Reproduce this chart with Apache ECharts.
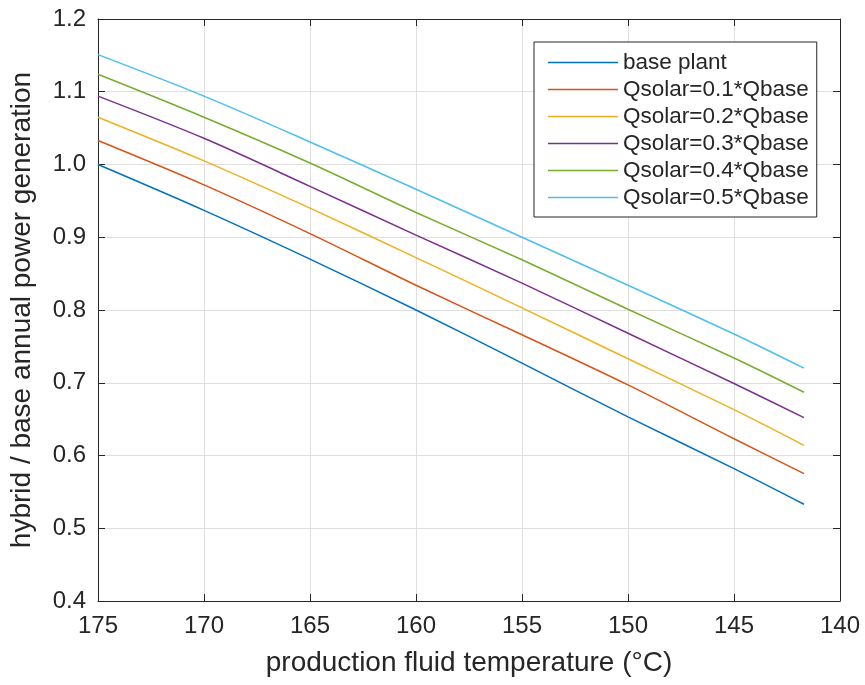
<!DOCTYPE html>
<html>
<head>
<meta charset="utf-8">
<script src="https://cdn.jsdelivr.net/npm/echarts@6/dist/echarts.min.js"></script>
<style>
  html, body { margin: 0; padding: 0; background: #ffffff; }
  #chart { width: 865px; height: 685px; }
</style>
</head>
<body>
<div id="chart"></div>
<script>
// production fluid temperature (°C), read at grid lines plus the last point
const temps = [175, 170, 165, 160, 155, 150, 145, 141.7];

const seriesNames = [
  'base plant',
  'Qsolar=0.1*Qbase',
  'Qsolar=0.2*Qbase',
  'Qsolar=0.3*Qbase',
  'Qsolar=0.4*Qbase',
  'Qsolar=0.5*Qbase'
];

const basePlant = [1.000, 0.937, 0.870, 0.800, 0.727, 0.653, 0.582, 0.533];
const solar01   = [1.033, 0.972, 0.905, 0.834, 0.766, 0.697, 0.623, 0.575];
const solar02   = [1.065, 1.005, 0.940, 0.872, 0.803, 0.733, 0.663, 0.614];
const solar03   = [1.094, 1.036, 0.970, 0.903, 0.837, 0.768, 0.699, 0.652];
const solar04   = [1.124, 1.065, 1.002, 0.934, 0.869, 0.801, 0.734, 0.687];
const solar05   = [1.151, 1.094, 1.031, 0.966, 0.900, 0.834, 0.767, 0.720];

const allValues = [basePlant, solar01, solar02, solar03, solar04, solar05];

// MATLAB default line colours
const colors = ['#0072BD', '#D95319', '#EDB120', '#7E2F8E', '#77AC30', '#4DBEEE'];

const ink = '#262626';
const font = 'Liberation Sans, Arial, Helvetica, sans-serif';

const chart = echarts.init(document.getElementById('chart'), null, { renderer: 'canvas' });

const xBase = {
  type: 'value', min: 140, max: 175, interval: 5, inverse: true,
  axisLine: { show: true, onZero: false, lineStyle: { color: ink, width: 1 } },
  axisTick: { show: true, inside: true, length: 7, lineStyle: { color: ink } }
};
const yBase = {
  type: 'value', min: 0.4, max: 1.2, interval: 0.1,
  axisLine: { show: true, onZero: false, lineStyle: { color: ink, width: 1 } },
  axisTick: { show: true, inside: true, length: 7, lineStyle: { color: ink } }
};

chart.setOption({
  backgroundColor: '#ffffff',
  animation: false,
  textStyle: { fontFamily: font },
  grid: { left: 98, right: 25, top: 19, bottom: 84 },
  xAxis: [
    Object.assign({}, xBase, {
      position: 'bottom',
      name: 'production fluid temperature (°C)',
      nameLocation: 'middle',
      nameGap: 48,
      nameTextStyle: { color: ink, fontSize: 28, fontFamily: font },
      axisLabel: { color: ink, fontSize: 24, margin: 13, fontFamily: font },
      splitLine: { show: true, lineStyle: { color: '#dfdfdf', width: 1 } }
    }),
    Object.assign({}, xBase, {
      position: 'top',
      axisLabel: { show: false },
      splitLine: { show: false }
    })
  ],
  yAxis: [
    Object.assign({}, yBase, {
      position: 'left',
      name: 'hybrid / base annual power generation',
      nameLocation: 'middle',
      nameGap: 62,
      nameTextStyle: { color: ink, fontSize: 28, fontFamily: font },
      axisLabel: { color: ink, fontSize: 24, margin: 12, fontFamily: font,
        formatter: v => v.toFixed(1) },
      splitLine: { show: true, lineStyle: { color: '#dfdfdf', width: 1 } }
    }),
    Object.assign({}, yBase, {
      position: 'right',
      axisLabel: { show: false },
      splitLine: { show: false }
    })
  ],
  legend: {
    orient: 'vertical',
    left: 534,
    top: 42,
    padding: [9, 8, 8, 14],
    icon: 'rect',
    itemWidth: 70,
    itemHeight: 1.5,
    itemGap: 4,
    backgroundColor: '#ffffff',
    borderColor: ink,
    borderWidth: 1,
    textStyle: { color: ink, fontSize: 22.5, lineHeight: 22, fontFamily: font },
    data: seriesNames
  },
  series: allValues.map((vals, i) => ({
    name: seriesNames[i],
    type: 'line',
    xAxisIndex: 0,
    yAxisIndex: 0,
    data: temps.map((t, k) => [t, vals[k]]),
    smooth: 0.3,
    symbol: 'none',
    color: colors[i],
    lineStyle: { color: colors[i], width: 1.5 },
    z: 3
  }))
});
</script>
</body>
</html>
